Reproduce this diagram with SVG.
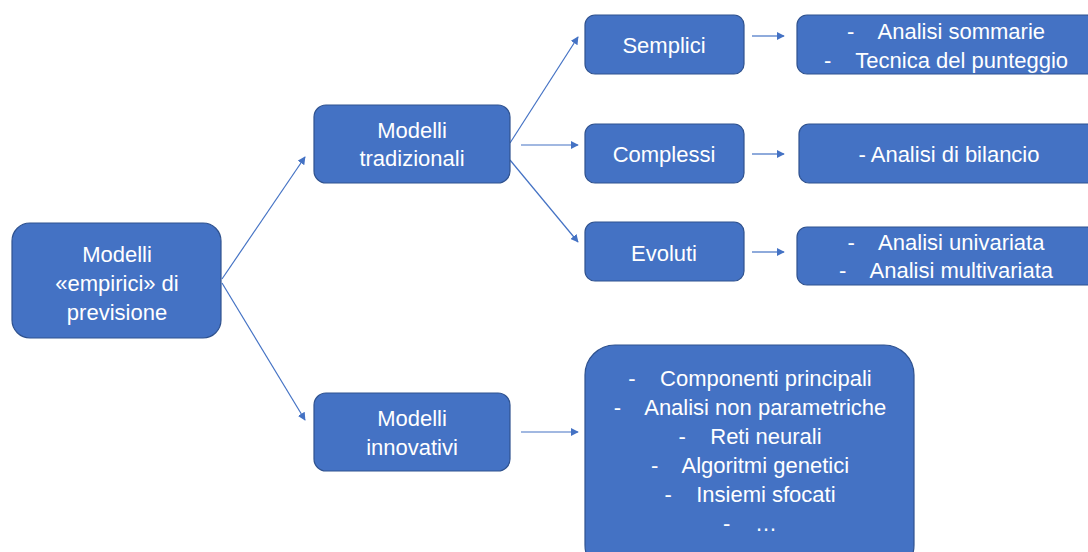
<svg xmlns="http://www.w3.org/2000/svg" width="1088" height="552" viewBox="0 0 1088 552">
<style>
.box{fill:#4472C4;stroke:#2F528F;stroke-width:1.2}
.t{font-family:"Liberation Sans",Arial,sans-serif;font-size:22px;fill:#fff;text-anchor:middle;white-space:pre}
.c{stroke:#4472C4;stroke-width:1.2;fill:none;marker-end:url(#ah)}
</style>
<defs>
<marker id="ah" viewBox="0 0 10 10" refX="9" refY="5" markerWidth="8" markerHeight="8" markerUnits="userSpaceOnUse" orient="auto">
<path d="M0,0 L10,5 L0,10 z" fill="#4472C4"/>
</marker>
</defs>
<rect width="1088" height="552" fill="#fff"/>
<g id="connectors">
<line class="c" x1="222" y1="279" x2="305" y2="157"/>
<line class="c" x1="222" y1="283" x2="305" y2="420"/>
<line class="c" x1="510" y1="143" x2="578" y2="37"/>
<line class="c" x1="521" y1="145" x2="578" y2="145"/>
<line class="c" x1="510" y1="160" x2="578" y2="242"/>
<line class="c" x1="752" y1="36" x2="784" y2="36"/>
<line class="c" x1="752" y1="154" x2="784" y2="154"/>
<line class="c" x1="752" y1="252" x2="784" y2="252"/>
<line class="c" x1="521" y1="432" x2="578" y2="432"/>
</g>
<g id="root">
<rect class="box" x="12" y="223" width="209" height="115" rx="18"/>
<text class="t" x="117" y="262">Modelli</text>
<text class="t" x="117" y="291">«empirici» di</text>
<text class="t" x="117" y="320">previsione</text>
</g>
<g id="tradizionali">
<rect class="box" x="314" y="105" width="196" height="78" rx="12"/>
<text class="t" x="412" y="138">Modelli</text>
<text class="t" x="412" y="166">tradizionali</text>
</g>
<g id="innovativi">
<rect class="box" x="314" y="393" width="196" height="78" rx="12"/>
<text class="t" x="412" y="426">Modelli</text>
<text class="t" x="412" y="455">innovativi</text>
</g>
<g id="semplici">
<rect class="box" x="585" y="15" width="159" height="59" rx="10"/>
<text class="t" x="664" y="53">Semplici</text>
</g>
<g id="complessi">
<rect class="box" x="585" y="124" width="159" height="59" rx="10"/>
<text class="t" x="664" y="162">Complessi</text>
</g>
<g id="evoluti">
<rect class="box" x="585" y="222" width="159" height="59" rx="10"/>
<text class="t" x="664" y="261">Evoluti</text>
</g>
<g id="semplici-dettaglio">
<rect class="box" x="797" y="15" width="300" height="59" rx="10"/>
<text class="t" x="946" y="39">-    Analisi sommarie</text>
<text class="t" x="946" y="68">-    Tecnica del punteggio</text>
</g>
<g id="complessi-dettaglio">
<rect class="box" x="799" y="124" width="300" height="59" rx="10"/>
<text class="t" x="949" y="162">- Analisi di bilancio</text>
</g>
<g id="evoluti-dettaglio">
<rect class="box" x="797" y="227" width="300" height="58" rx="10"/>
<text class="t" x="946" y="250">-    Analisi univariata</text>
<text class="t" x="946" y="278">-    Analisi multivariata</text>
</g>
<g id="innovativi-dettaglio">
<rect class="box" x="585" y="345" width="329" height="230" rx="30"/>
<text class="t" x="750" y="386">-    Componenti principali</text>
<text class="t" x="750" y="415">-    Analisi non parametriche</text>
<text class="t" x="750" y="444">-    Reti neurali</text>
<text class="t" x="750" y="473">-    Algoritmi genetici</text>
<text class="t" x="750" y="502">-    Insiemi sfocati</text>
<text class="t" x="750" y="531">-    …</text>
</g>
</svg>
